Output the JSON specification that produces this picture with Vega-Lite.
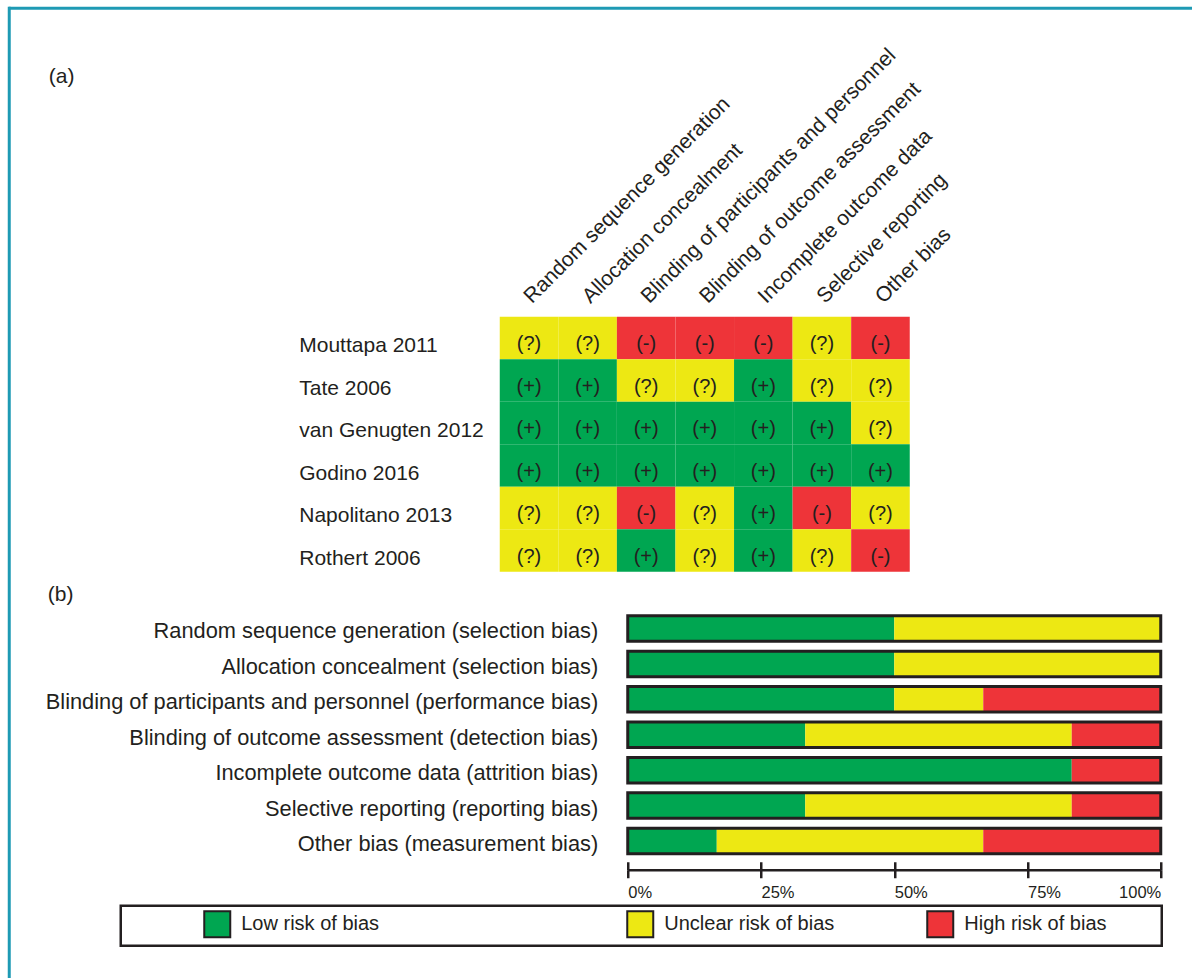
{
  "$schema": "https://vega.github.io/schema/vega-lite/v6.json",
  "padding": {"left": 7.75, "top": 6.75, "right": 0, "bottom": 0},
  "autosize": {"type": "pad"},
  "background": "white",
  "config": {
    "font": "Liberation Sans",
    "view": {"stroke": null},
    "axis": {"labelColor": "#231F20", "labelFont": "Liberation Sans", "grid": false},
    "title": {"color": "#231F20", "fontWeight": "normal", "font": "Liberation Sans", "fontSize": 21},
    "legend": {"strokeWidth": 2.5, "labelFont": "Liberation Sans"}
  },
  "datasets": {
    "grid": [
      {"study": "Mouttapa 2011", "domain": "Random sequence generation", "risk": "Unclear risk of bias", "symbol": "(?)"},
      {"study": "Mouttapa 2011", "domain": "Allocation concealment", "risk": "Unclear risk of bias", "symbol": "(?)"},
      {"study": "Mouttapa 2011", "domain": "Blinding of participants and personnel", "risk": "High risk of bias", "symbol": "(-)"},
      {"study": "Mouttapa 2011", "domain": "Blinding of outcome assessment", "risk": "High risk of bias", "symbol": "(-)"},
      {"study": "Mouttapa 2011", "domain": "Incomplete outcome data", "risk": "High risk of bias", "symbol": "(-)"},
      {"study": "Mouttapa 2011", "domain": "Selective reporting", "risk": "Unclear risk of bias", "symbol": "(?)"},
      {"study": "Mouttapa 2011", "domain": "Other bias", "risk": "High risk of bias", "symbol": "(-)"},
      {"study": "Tate 2006", "domain": "Random sequence generation", "risk": "Low risk of bias", "symbol": "(+)"},
      {"study": "Tate 2006", "domain": "Allocation concealment", "risk": "Low risk of bias", "symbol": "(+)"},
      {"study": "Tate 2006", "domain": "Blinding of participants and personnel", "risk": "Unclear risk of bias", "symbol": "(?)"},
      {"study": "Tate 2006", "domain": "Blinding of outcome assessment", "risk": "Unclear risk of bias", "symbol": "(?)"},
      {"study": "Tate 2006", "domain": "Incomplete outcome data", "risk": "Low risk of bias", "symbol": "(+)"},
      {"study": "Tate 2006", "domain": "Selective reporting", "risk": "Unclear risk of bias", "symbol": "(?)"},
      {"study": "Tate 2006", "domain": "Other bias", "risk": "Unclear risk of bias", "symbol": "(?)"},
      {"study": "van Genugten 2012", "domain": "Random sequence generation", "risk": "Low risk of bias", "symbol": "(+)"},
      {"study": "van Genugten 2012", "domain": "Allocation concealment", "risk": "Low risk of bias", "symbol": "(+)"},
      {"study": "van Genugten 2012", "domain": "Blinding of participants and personnel", "risk": "Low risk of bias", "symbol": "(+)"},
      {"study": "van Genugten 2012", "domain": "Blinding of outcome assessment", "risk": "Low risk of bias", "symbol": "(+)"},
      {"study": "van Genugten 2012", "domain": "Incomplete outcome data", "risk": "Low risk of bias", "symbol": "(+)"},
      {"study": "van Genugten 2012", "domain": "Selective reporting", "risk": "Low risk of bias", "symbol": "(+)"},
      {"study": "van Genugten 2012", "domain": "Other bias", "risk": "Unclear risk of bias", "symbol": "(?)"},
      {"study": "Godino 2016", "domain": "Random sequence generation", "risk": "Low risk of bias", "symbol": "(+)"},
      {"study": "Godino 2016", "domain": "Allocation concealment", "risk": "Low risk of bias", "symbol": "(+)"},
      {"study": "Godino 2016", "domain": "Blinding of participants and personnel", "risk": "Low risk of bias", "symbol": "(+)"},
      {"study": "Godino 2016", "domain": "Blinding of outcome assessment", "risk": "Low risk of bias", "symbol": "(+)"},
      {"study": "Godino 2016", "domain": "Incomplete outcome data", "risk": "Low risk of bias", "symbol": "(+)"},
      {"study": "Godino 2016", "domain": "Selective reporting", "risk": "Low risk of bias", "symbol": "(+)"},
      {"study": "Godino 2016", "domain": "Other bias", "risk": "Low risk of bias", "symbol": "(+)"},
      {"study": "Napolitano 2013", "domain": "Random sequence generation", "risk": "Unclear risk of bias", "symbol": "(?)"},
      {"study": "Napolitano 2013", "domain": "Allocation concealment", "risk": "Unclear risk of bias", "symbol": "(?)"},
      {"study": "Napolitano 2013", "domain": "Blinding of participants and personnel", "risk": "High risk of bias", "symbol": "(-)"},
      {"study": "Napolitano 2013", "domain": "Blinding of outcome assessment", "risk": "Unclear risk of bias", "symbol": "(?)"},
      {"study": "Napolitano 2013", "domain": "Incomplete outcome data", "risk": "Low risk of bias", "symbol": "(+)"},
      {"study": "Napolitano 2013", "domain": "Selective reporting", "risk": "High risk of bias", "symbol": "(-)"},
      {"study": "Napolitano 2013", "domain": "Other bias", "risk": "Unclear risk of bias", "symbol": "(?)"},
      {"study": "Rothert 2006", "domain": "Random sequence generation", "risk": "Unclear risk of bias", "symbol": "(?)"},
      {"study": "Rothert 2006", "domain": "Allocation concealment", "risk": "Unclear risk of bias", "symbol": "(?)"},
      {"study": "Rothert 2006", "domain": "Blinding of participants and personnel", "risk": "Low risk of bias", "symbol": "(+)"},
      {"study": "Rothert 2006", "domain": "Blinding of outcome assessment", "risk": "Unclear risk of bias", "symbol": "(?)"},
      {"study": "Rothert 2006", "domain": "Incomplete outcome data", "risk": "Low risk of bias", "symbol": "(+)"},
      {"study": "Rothert 2006", "domain": "Selective reporting", "risk": "Unclear risk of bias", "symbol": "(?)"},
      {"study": "Rothert 2006", "domain": "Other bias", "risk": "High risk of bias", "symbol": "(-)"}
    ],
    "summary": [
      {"item": "Random sequence generation (selection bias)", "risk": "Low risk of bias", "percent": 50, "rank": 1},
      {"item": "Random sequence generation (selection bias)", "risk": "Unclear risk of bias", "percent": 50, "rank": 2},
      {"item": "Allocation concealment (selection bias)", "risk": "Low risk of bias", "percent": 50, "rank": 1},
      {"item": "Allocation concealment (selection bias)", "risk": "Unclear risk of bias", "percent": 50, "rank": 2},
      {"item": "Blinding of participants and personnel (performance bias)", "risk": "Low risk of bias", "percent": 50, "rank": 1},
      {"item": "Blinding of participants and personnel (performance bias)", "risk": "Unclear risk of bias", "percent": 16.7, "rank": 2},
      {"item": "Blinding of participants and personnel (performance bias)", "risk": "High risk of bias", "percent": 33.3, "rank": 3},
      {"item": "Blinding of outcome assessment (detection bias)", "risk": "Low risk of bias", "percent": 33.3, "rank": 1},
      {"item": "Blinding of outcome assessment (detection bias)", "risk": "Unclear risk of bias", "percent": 50, "rank": 2},
      {"item": "Blinding of outcome assessment (detection bias)", "risk": "High risk of bias", "percent": 16.7, "rank": 3},
      {"item": "Incomplete outcome data (attrition bias)", "risk": "Low risk of bias", "percent": 83.3, "rank": 1},
      {"item": "Incomplete outcome data (attrition bias)", "risk": "High risk of bias", "percent": 16.7, "rank": 3},
      {"item": "Selective reporting (reporting bias)", "risk": "Low risk of bias", "percent": 33.3, "rank": 1},
      {"item": "Selective reporting (reporting bias)", "risk": "Unclear risk of bias", "percent": 50, "rank": 2},
      {"item": "Selective reporting (reporting bias)", "risk": "High risk of bias", "percent": 16.7, "rank": 3},
      {"item": "Other bias (measurement bias)", "risk": "Low risk of bias", "percent": 16.7, "rank": 1},
      {"item": "Other bias (measurement bias)", "risk": "Unclear risk of bias", "percent": 50, "rank": 2},
      {"item": "Other bias (measurement bias)", "risk": "High risk of bias", "percent": 33.3, "rank": 3}
    ]
  },
  "bounds": "flush",
  "spacing": 0,
  "hconcat": [
    {
      "width": 1,
      "height": 980,
      "view": {"stroke": "#1E9AB4", "strokeWidth": 2, "fill": "#1E9AB4"},
      "data": {"values": []},
      "mark": "rect",
      "encoding": {}
    },
    {
      "bounds": "flush",
      "spacing": 308,
      "vconcat": [
        {
          "width": 1200,
          "height": 1,
          "view": {"stroke": "#1E9AB4", "strokeWidth": 2, "fill": "#1E9AB4"},
          "data": {"values": []},
          "mark": "rect",
          "encoding": {}
        },
        {
          "bounds": "full",
          "spacing": 12,
          "vconcat": [
            {
              "bounds": "flush",
              "spacing": 489,
              "hconcat": [
                {"width": 1, "height": 1, "data": {"values": []}, "mark": "rect", "encoding": {}},
                {
                  "title": {"text": "(a)", "anchor": "start", "frame": "group", "dx": -451, "offset": -54, "baseline": "middle", "align": "left", "fontSize": 21},
                  "width": 410,
                  "height": 255,
                  "data": {"name": "grid"},
                  "encoding": {
                    "x": {
                      "field": "domain", "type": "nominal",
                      "sort": ["Random sequence generation", "Allocation concealment", "Blinding of participants and personnel", "Blinding of outcome assessment", "Incomplete outcome data", "Selective reporting", "Other bias"],
                      "scale": {"paddingInner": 0, "paddingOuter": 0},
                      "axis": {"orient": "top", "title": null, "labelAngle": -45, "labelAlign": "left", "labelBaseline": "alphabetic", "labelPadding": 13, "labelOffset": 3, "ticks": false, "tickSize": 0, "domain": false, "labelFontSize": 21, "labelLimit": 0, "labelOverlap": false}
                    },
                    "y": {
                      "field": "study", "type": "nominal",
                      "sort": ["Mouttapa 2011", "Tate 2006", "van Genugten 2012", "Godino 2016", "Napolitano 2013", "Rothert 2006"],
                      "scale": {"paddingInner": 0, "paddingOuter": 0},
                      "axis": {"title": null, "labelAlign": "left", "labelBaseline": "middle", "labelPadding": 201, "labelOffset": 8, "ticks": false, "tickSize": 0, "domain": false, "labelFontSize": 21, "labelLimit": 0}
                    }
                  },
                  "layer": [
                    {
                      "mark": {"type": "rect"},
                      "encoding": {
                        "color": {
                          "field": "risk", "type": "nominal",
                          "scale": {"domain": ["Low risk of bias", "Unclear risk of bias", "High risk of bias"], "range": ["#00A651", "#EDE813", "#EE3439"]},
                          "legend": {"title": null, "orient": "none", "legendX": 112, "legendY": 898, "direction": "horizontal", "columns": 3, "symbolType": "square", "symbolSize": 676, "symbolStrokeColor": "#231F20", "symbolStrokeWidth": 2, "symbolOffset": 78, "labelFontSize": 20, "labelColor": "#231F20", "labelOffset": 10, "labelLimit": 0, "columnPadding": 13, "padding": 4.5, "strokeColor": "#231F20", "labelExpr": "datum.label == 'Low risk of bias' ? datum.label + '                            \u200b' : datum.label == 'High risk of bias' ? datum.label + '         \u200b' : datum.label"}
                        }
                      }
                    },
                    {
                      "mark": {"type": "text", "fontSize": 20, "dy": 6, "color": "#231F20"},
                      "encoding": {"text": {"field": "symbol", "type": "nominal"}}
                    }
                  ]
                }
              ]
            },
            {
              "bounds": "flush",
              "spacing": 617,
              "hconcat": [
                {"width": 1, "height": 1, "data": {"values": []}, "mark": "rect", "encoding": {}},
                {
                  "title": {"text": "(b)", "anchor": "start", "frame": "group", "dx": -580, "offset": -5, "baseline": "middle", "align": "left", "fontSize": 21},
                  "width": 533,
                  "height": 248,
                  "data": {"name": "summary"},
                  "encoding": {
                    "y": {
                      "field": "item", "type": "nominal",
                      "sort": ["Random sequence generation (selection bias)", "Allocation concealment (selection bias)", "Blinding of participants and personnel (performance bias)", "Blinding of outcome assessment (detection bias)", "Incomplete outcome data (attrition bias)", "Selective reporting (reporting bias)", "Other bias (measurement bias)"],
                      "scale": {"paddingInner": 0.28, "paddingOuter": 0.14},
                      "axis": {"title": null, "labelAlign": "right", "labelBaseline": "middle", "labelPadding": 30, "labelOffset": 3, "ticks": false, "tickSize": 0, "domain": false, "labelFontSize": 21.8, "labelLimit": 0}
                    }
                  },
                  "layer": [
                    {
                      "mark": {"type": "bar"},
                      "encoding": {
                        "x": {
                          "field": "percent", "type": "quantitative", "stack": "zero",
                          "scale": {"domain": [0, 100], "nice": false},
                          "axis": {"orient": "bottom", "title": null, "offset": 11, "values": [0, 25, 50, 75, 100], "tickSize": 8, "tickWidth": 2.5, "tickColor": "#231F20", "domain": true, "domainColor": "#231F20", "domainWidth": 2.5, "labelExpr": "datum.value + '%'", "labelFontSize": 16.5, "labelPadding": 7, "labelAlign": {"condition": {"test": "datum.value == 100", "value": "right"}, "value": "left"}, "labelFlush": false, "grid": false}
                        },
                        "color": {
                          "field": "risk", "type": "nominal",
                          "scale": {"domain": ["Low risk of bias", "Unclear risk of bias", "High risk of bias"], "range": ["#00A651", "#EDE813", "#EE3439"]},
                          "legend": {"title": null, "orient": "none", "legendX": 112, "legendY": 898, "direction": "horizontal", "columns": 3, "symbolType": "square", "symbolSize": 676, "symbolStrokeColor": "#231F20", "symbolStrokeWidth": 2, "symbolOffset": 78, "labelFontSize": 20, "labelColor": "#231F20", "labelOffset": 10, "labelLimit": 0, "columnPadding": 13, "padding": 4.5, "strokeColor": "#231F20", "labelExpr": "datum.label == 'Low risk of bias' ? datum.label + '                            \u200b' : datum.label == 'High risk of bias' ? datum.label + '         \u200b' : datum.label"}
                        },
                        "order": {"field": "rank", "type": "quantitative"}
                      }
                    },
                    {
                      "transform": [{"aggregate": [{"op": "sum", "field": "percent", "as": "total"}], "groupby": ["item"]}],
                      "mark": {"type": "bar", "fillOpacity": 0, "stroke": "#231F20", "strokeWidth": 3},
                      "encoding": {
                        "x": {
                          "field": "total", "type": "quantitative",
                          "scale": {"domain": [0, 100], "nice": false},
                          "axis": {"orient": "bottom", "title": null, "offset": 11, "values": [0, 25, 50, 75, 100], "tickSize": -8, "tickWidth": 2.5, "tickColor": "#231F20", "domain": false, "labels": false, "grid": false}
                        }
                      }
                    }
                  ],
                  "resolve": {"axis": {"x": "independent"}}
                }
              ]
            }
          ]
        }
      ]
    }
  ]
}
